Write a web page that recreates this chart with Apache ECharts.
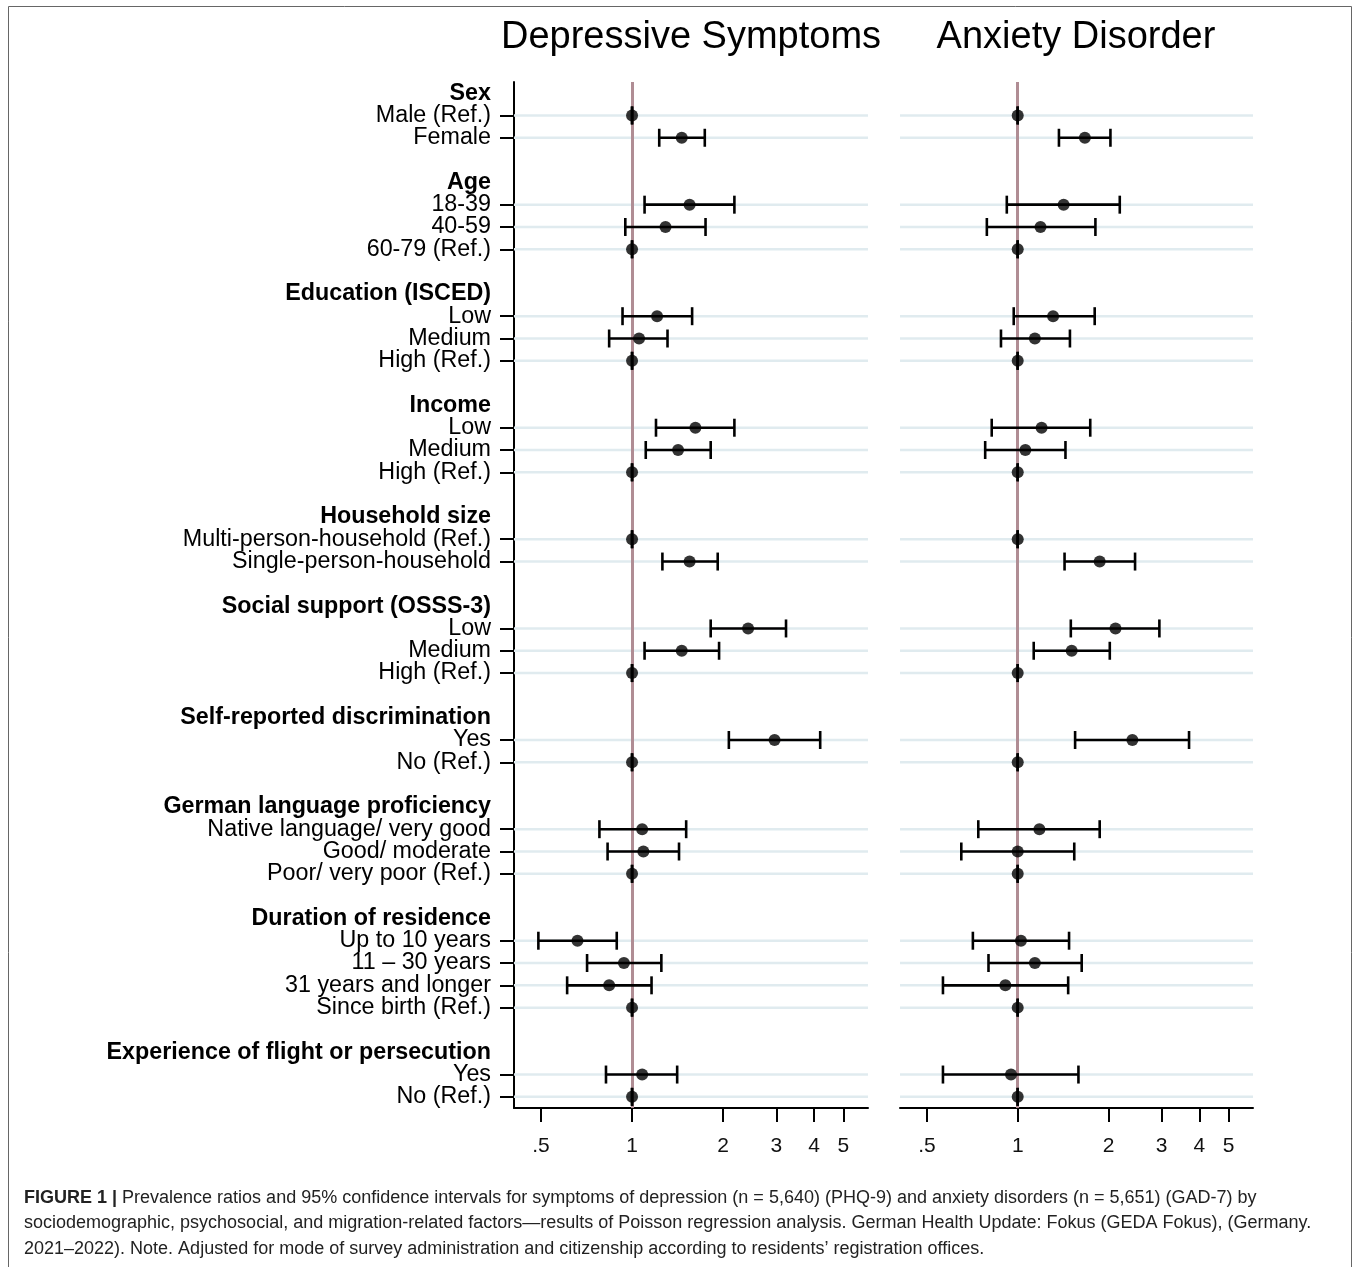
<!DOCTYPE html>
<html>
<head>
<meta charset="utf-8">
<script src="https://cdn.jsdelivr.net/npm/echarts@6/dist/echarts.min.js"></script>
<style>
  html, body { margin: 0; padding: 0; background: #fff; }
  #chart { width: 1356px; height: 1267px; }
</style>
</head>
<body>
<div id="chart"></div>
<script>
// row labels, top to bottom (headers and blank spacer rows included)
var rowLabels = [
  'Sex', 'Male (Ref.)', 'Female', '',
  'Age', '18-39', '40-59', '60-79 (Ref.)', '',
  'Education (ISCED)', 'Low', 'Medium', 'High (Ref.)', '',
  'Income', 'Low', 'Medium', 'High (Ref.)', '',
  'Household size', 'Multi-person-household (Ref.)', 'Single-person-household', '',
  'Social support (OSSS-3)', 'Low', 'Medium', 'High (Ref.)', '',
  'Self-reported discrimination', 'Yes', 'No (Ref.)', '',
  'German language proficiency', 'Native language/ very good', 'Good/ moderate', 'Poor/ very poor (Ref.)', '',
  'Duration of residence', 'Up to 10 years', '11 \u2013 30 years', '31 years and longer', 'Since birth (Ref.)', '',
  'Experience of flight or persecution', 'Yes', 'No (Ref.)'
];
var headerRows = [0, 4, 9, 14, 19, 23, 28, 32, 37, 43];
var dataRows = [1, 2, 5, 6, 7, 10, 11, 12, 15, 16, 17, 20, 21, 24, 25, 26, 29, 30, 33, 34, 35, 38, 39, 40, 41, 44, 45];

// Depressive symptoms (PHQ-9): prevalence ratio and 95% CI
var depEst = [1, 1.46, 1.55, 1.29, 1, 1.21, 1.055, 1, 1.62, 1.42, 1, 1, 1.55, 2.42, 1.46, 1, 2.96, 1, 1.08, 1.09, 1, 0.66, 0.94, 0.84, 1, 1.08, 1];
var depLo  = [1, 1.23, 1.10, 0.95, 1, 0.93, 0.84, 1, 1.20, 1.11, 1, 1, 1.26, 1.82, 1.10, 1, 2.09, 1, 0.78, 0.83, 1, 0.49, 0.71, 0.61, 1, 0.82, 1];
var depHi  = [1, 1.74, 2.18, 1.75, 1, 1.58, 1.31, 1, 2.18, 1.82, 1, 1, 1.92, 3.23, 1.94, 1, 4.19, 1, 1.51, 1.43, 1, 0.89, 1.25, 1.16, 1, 1.41, 1];

// Anxiety disorder (GAD-7)
var anxEst = [1, 1.67, 1.42, 1.19, 1, 1.31, 1.14, 1, 1.20, 1.06, 1, 1, 1.87, 2.11, 1.51, 1, 2.40, 1, 1.18, 1.00, 1, 1.025, 1.14, 0.91, 1, 0.95, 1];
var anxLo  = [1, 1.37, 0.92, 0.79, 1, 0.97, 0.88, 1, 0.82, 0.78, 1, 1, 1.43, 1.50, 1.13, 1, 1.55, 1, 0.74, 0.65, 1, 0.71, 0.80, 0.565, 1, 0.565, 1];
var anxHi  = [1, 2.03, 2.18, 1.81, 1, 1.80, 1.49, 1, 1.74, 1.44, 1, 1, 2.45, 2.95, 2.02, 1, 3.70, 1, 1.87, 1.54, 1, 1.48, 1.63, 1.47, 1, 1.59, 1];

var xTicks = [0.5, 1, 2, 3, 4, 5];

var FONT = '"Liberation Sans", Arial, Helvetica, sans-serif';

function isHeader(i) { return headerRows.indexOf(i) >= 0; }
function isData(i) { return dataRows.indexOf(i) >= 0; }

function ciData(lo, hi) {
  return dataRows.map(function (r, i) { return [lo[i], hi[i], r]; });
}
function estData(est) {
  return dataRows.map(function (r, i) { return [est[i], r]; });
}

function renderGridLine(params, api) {
  var y = api.coord([1, api.value(1)])[1];
  var cs = params.coordSys;
  return {
    type: 'line',
    shape: { x1: cs.x, y1: y, x2: cs.x + cs.width, y2: y },
    style: { stroke: '#e0ebef', lineWidth: 2.5 }
  };
}

function renderCI(params, api) {
  var row = api.value(2);
  var p1 = api.coord([api.value(0), row]);
  var p2 = api.coord([api.value(1), row]);
  var h = 9;
  var st = { stroke: '#000', lineWidth: 2.6 };
  return {
    type: 'group',
    children: [
      { type: 'line', shape: { x1: p1[0], y1: p1[1], x2: p2[0], y2: p2[1] }, style: st },
      { type: 'line', shape: { x1: p1[0], y1: p1[1] - h, x2: p1[0], y2: p1[1] + h }, style: st },
      { type: 'line', shape: { x1: p2[0], y1: p2[1] - h, x2: p2[0], y2: p2[1] + h }, style: st }
    ]
  };
}

function xAxisOpt(idx) {
  return {
    type: 'log',
    gridIndex: idx,
    logBase: 10,
    min: 0.407,
    max: 6.03,
    axisLine: { show: true, onZero: false, lineStyle: { color: '#000', width: 2 } },
    axisTick: { show: true, length: 14, customValues: xTicks, lineStyle: { color: '#000', width: 2 } },
    axisLabel: {
      customValues: xTicks,
      margin: 28,
      fontSize: 21,
      fontFamily: FONT,
      color: '#111',
      formatter: function (v) { return v === 0.5 ? '.5' : String(v); }
    },
    splitLine: { show: false },
    minorTick: { show: false }
  };
}

function yAxisOpt(idx, showAxis) {
  return {
    type: 'category',
    gridIndex: idx,
    data: rowLabels,
    inverse: true,
    boundaryGap: true,
    axisLine: { show: showAxis, lineStyle: { color: '#000', width: 2 } },
    axisTick: {
      show: showAxis,
      alignWithLabel: true,
      length: 14,
      interval: function (i) { return isData(i); },
      lineStyle: { color: '#000', width: 2 }
    },
    axisLabel: {
      show: showAxis,
      interval: 0,
      margin: 23,
      fontSize: 23.3,
      fontFamily: FONT,
      color: '#000',
      formatter: function (v, i) { return isHeader(i) ? '{h|' + v + '}' : v; },
      rich: { h: { fontWeight: 'bold', fontSize: 23.3, fontFamily: FONT, color: '#000' } }
    },
    splitLine: { show: false }
  };
}

function panelSeries(idx, est, lo, hi) {
  return [
    {
      type: 'custom',
      xAxisIndex: idx, yAxisIndex: idx,
      z: 1,
      silent: true,
      renderItem: renderGridLine,
      encode: { x: 0, y: 1 },
      data: dataRows.map(function (r) { return [1, r]; }),
      markLine: {
        silent: true,
        z: 2,
        symbol: 'none',
        label: { show: false },
        lineStyle: { color: '#b08d94', width: 3, type: 'solid' },
        data: [{ xAxis: 1 }]
      }
    },
    {
      type: 'custom',
      xAxisIndex: idx, yAxisIndex: idx,
      z: 3,
      silent: true,
      renderItem: renderCI,
      encode: { x: [0, 1], y: 2 },
      data: ciData(lo, hi)
    },
    {
      type: 'scatter',
      xAxisIndex: idx, yAxisIndex: idx,
      z: 4,
      silent: true,
      symbol: 'circle',
      symbolSize: 12,
      itemStyle: { color: '#000' },
      data: estData(est)
    }
  ];
}

var myChart = echarts.init(document.getElementById('chart'));
var option = {
  backgroundColor: '#fff',
  animation: false,
  grid: [
    { left: 514, top: 82, width: 354, height: 1026, containLabel: false },
    { left: 900, top: 82, width: 353, height: 1026, containLabel: false }
  ],
  xAxis: [xAxisOpt(0), xAxisOpt(1)],
  yAxis: [yAxisOpt(0, true), yAxisOpt(1, false)],
  series: panelSeries(0, depEst, depLo, depHi).concat(panelSeries(1, anxEst, anxLo, anxHi)),
  graphic: [
    {
      type: 'rect',
      shape: { x: 8.5, y: 6.5, width: 1343, height: 1280 },
      style: { fill: 'none', stroke: '#666', lineWidth: 1 },
      silent: true
    },
    {
      type: 'text', x: 691, y: 38,
      style: { text: 'Depressive Symptoms', fill: '#000', font: '38px ' + FONT, textAlign: 'center', textVerticalAlign: 'middle' }
    },
    {
      type: 'text', x: 1076, y: 38,
      style: { text: 'Anxiety Disorder', fill: '#000', font: '38px ' + FONT, textAlign: 'center', textVerticalAlign: 'middle' }
    },
    {
      type: 'text', x: 24, y: 1198,
      style: {
        text: '{b|FIGURE 1 |} Prevalence ratios and 95% confidence intervals for symptoms of depression (n = 5,640) (PHQ-9) and anxiety disorders (n = 5,651) (GAD-7) by',
        fill: '#222', font: '18px ' + FONT, textVerticalAlign: 'middle',
        rich: { b: { fontWeight: 'bold', fontSize: 18, fontFamily: FONT, fill: '#222' } }
      }
    },
    {
      type: 'text', x: 24, y: 1223,
      style: {
        text: 'sociodemographic, psychosocial, and migration-related factors\u2014results of Poisson regression analysis. German Health Update: Fokus (GEDA Fokus), (Germany.',
        fill: '#222', font: '18px ' + FONT, textVerticalAlign: 'middle'
      }
    },
    {
      type: 'text', x: 24, y: 1249,
      style: {
        text: '2021\u20132022). Note. Adjusted for mode of survey administration and citizenship according to residents\u2019 registration offices.',
        fill: '#222', font: '18px ' + FONT, textVerticalAlign: 'middle'
      }
    }
  ]
};
myChart.setOption(option);
</script>
</body>
</html>
